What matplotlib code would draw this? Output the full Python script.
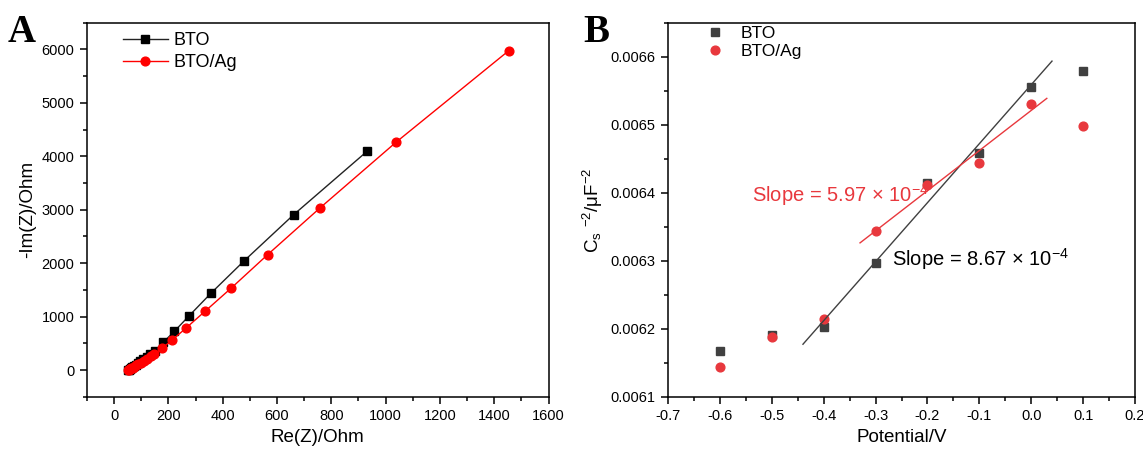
import numpy as np
import matplotlib
matplotlib.use('Agg')
import matplotlib.pyplot as plt
from matplotlib.ticker import MultipleLocator, FormatStrFormatter

plt.rcParams['font.family'] = ['Liberation Sans', 'DejaVu Sans']
plt.rcParams['mathtext.fontset'] = 'custom'
plt.rcParams['mathtext.rm'] = 'Liberation Sans'
plt.rcParams['mathtext.it'] = 'Liberation Sans:italic'

# Panel A: Nyquist data
bto_re = [53, 55, 58, 62, 67, 73, 80, 88, 97, 108, 120, 134, 151, 181, 222, 277, 358, 479, 661, 933]
bto_im = [3, 10, 20, 34, 52, 74, 100, 130, 165, 205, 250, 300, 362, 519, 725, 1019, 1444, 2044, 2906, 4100]
ag_re = [52, 54, 57, 60, 64, 69, 75, 82, 90, 99, 110, 122, 136, 148, 176, 214, 265, 335, 432, 566, 759, 1038, 1453]
ag_im = [2, 7, 14, 23, 34, 48, 66, 87, 112, 140, 175, 215, 260, 300, 406, 562, 787, 1100, 1537, 2162, 3037, 4262, 5975]

# Panel B: Mott-Schottky data
potential = [-0.6, -0.5, -0.4, -0.3, -0.2, -0.1, 0.0, 0.1]
bto_cs = [0.006168, 0.006191, 0.006202, 0.006297, 0.006415, 0.006458, 0.006555, 0.006579]
ag_cs = [0.006144, 0.006188, 0.006215, 0.006344, 0.006412, 0.006444, 0.006530, 0.006498]
bto_slope_label = 'Slope = 8.67 × 10$^{-4}$'
ag_slope_label = 'Slope = 5.97 × 10$^{-4}$'

# linear fit ranges (points used, line extent)
bto_fit_idx = slice(2, 7)
ag_fit_idx = slice(3, 7)
bto_line_x = [-0.44, 0.04]
ag_line_x = [-0.33, 0.03]

red = '#ff0000'
red_b = '#e8383d'
gray_b = '#404040'

fig = plt.figure(figsize=(11.43, 4.53), dpi=100)
axA = fig.add_axes([0.076, 0.124, 0.404, 0.826])
axB = fig.add_axes([0.5845, 0.124, 0.4085, 0.826])

for ax in (axA, axB):
    for s in ax.spines.values():
        s.set_linewidth(1.1)
    ax.tick_params(which='both', direction='out', top=False, right=False, labelsize=10.5, width=1.1)
    ax.tick_params(which='major', length=5, pad=4)
    ax.tick_params(which='minor', length=3)

# ---- A ----
axA.plot(bto_re, bto_im, '-s', color='#222222', mfc='black', mec='black', ms=5.5, lw=1, label='BTO')
axA.plot(ag_re, ag_im, '-o', color=red, ms=6.3, lw=1, label='BTO/Ag')
axA.set_xlim(-100, 1600)
axA.set_ylim(-500, 6500)
axA.xaxis.set_major_locator(MultipleLocator(200))
axA.xaxis.set_minor_locator(MultipleLocator(100))
axA.yaxis.set_major_locator(MultipleLocator(1000))
axA.yaxis.set_minor_locator(MultipleLocator(500))
axA.set_xlabel('Re(Z)/Ohm', fontsize=13.5)
axA.set_ylabel('-Im(Z)/Ohm', fontsize=13.5)
axA.legend(loc='upper left', bbox_to_anchor=(0.078, 0.975), frameon=False, fontsize=13,
           borderpad=0, borderaxespad=0, handlelength=2.5, handletextpad=0.3, labelspacing=0.3)

# ---- B ----
axB.plot(potential, bto_cs, 's', color=gray_b, ms=5.5, label='BTO')
axB.plot(potential, ag_cs, 'o', color=red_b, ms=6.3, label='BTO/Ag')
k1, b1 = np.polyfit(potential[bto_fit_idx], bto_cs[bto_fit_idx], 1)
k2, b2 = np.polyfit(potential[ag_fit_idx], ag_cs[ag_fit_idx], 1)
xl1 = np.array(bto_line_x)
xl2 = np.array(ag_line_x)
axB.plot(xl1, k1 * xl1 + b1, '-', color=gray_b, lw=1)
axB.plot(xl2, k2 * xl2 + b2, '-', color=red_b, lw=1)
axB.text(-0.539, 0.006396, ag_slope_label, color=red_b, fontsize=14.5, va='center')
axB.text(-0.269, 0.0063025, bto_slope_label, color='black', fontsize=14.5, va='center')
axB.set_xlim(-0.7, 0.2)
axB.set_ylim(0.0061, 0.00665)
axB.xaxis.set_major_locator(MultipleLocator(0.1))
axB.xaxis.set_minor_locator(MultipleLocator(0.05))
axB.yaxis.set_major_locator(MultipleLocator(0.0001))
axB.yaxis.set_minor_locator(MultipleLocator(0.00005))
axB.xaxis.set_major_formatter(FormatStrFormatter('%.1f'))
axB.yaxis.set_major_formatter(FormatStrFormatter('%.4f'))
axB.set_xlabel('Potential/V', fontsize=13.5)
axB.set_ylabel('C$_\\mathregular{s}$ $^{-2}$/μF$^{-2}$', fontsize=13.5)
axB.legend(loc='upper left', bbox_to_anchor=(0.082, 0.992), frameon=False, fontsize=12.5,
           borderpad=0, borderaxespad=0, handlelength=1.0, handletextpad=0.95, labelspacing=0.2)

fig.text(0.007, 0.97, 'A', fontsize=28, fontweight='bold', family='Liberation Serif', va='top')
fig.text(0.51, 0.97, 'B', fontsize=28, fontweight='bold', family='Liberation Serif', va='top')

fig.savefig('out.png', dpi=100)
